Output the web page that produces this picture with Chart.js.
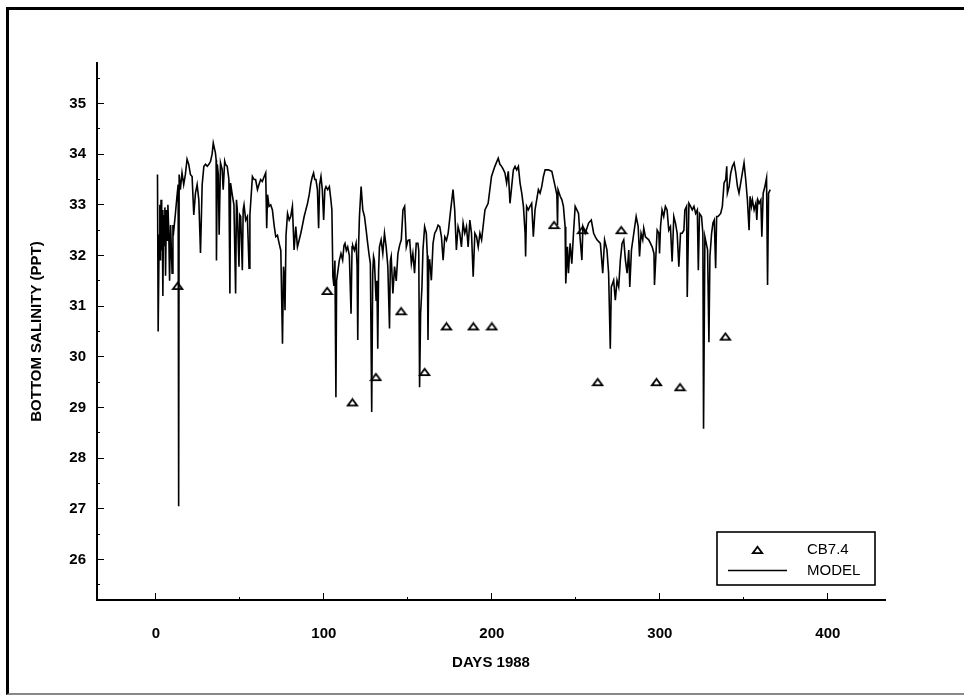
<!DOCTYPE html>
<html>
<head>
<meta charset="utf-8">
<title>Bottom salinity 1988</title>
<script src="https://cdn.jsdelivr.net/npm/chart.js@4.4.1/dist/chart.umd.min.js"></script>
<style>
  body { margin: 0; background: #fff; }
  #wrap { position: relative; width: 964px; height: 695px; overflow: hidden; }
  #salinityChart { position: absolute; left: 0; top: 0; }
  #frame { position: absolute; left: 6px; top: 7px; right: 0; bottom: 0;
           border-top: 3px solid #000; border-left: 3px solid #000; border-bottom: 2px solid #888;
           pointer-events: none; }
</style>
</head>
<body>
<div id="wrap">
  <canvas id="salinityChart" width="964" height="695"></canvas>
  <div id="frame"></div>
</div>
<script>
// station CB7.4 observations
var cbDays = [13, 102, 117, 131, 146, 160, 173, 189, 200, 237, 254, 263, 277, 298, 312, 339];
var cbSalinity = [31.4, 31.3, 29.1, 29.6, 30.9, 29.7, 30.6, 30.6, 30.6, 32.6, 32.5, 29.5, 32.5, 29.5, 29.4, 30.4];

// model bottom salinity through the year
var modelDays = [
  1.0, 1.4, 2.0, 2.4, 2.8, 3.1, 3.5, 3.8, 4.2, 4.6, 5.0, 5.4, 5.8, 6.3, 6.8, 7.2, 7.7, 8.2, 8.8, 9.7,
  10.2, 10.7, 11.6, 12.6, 13.3, 13.6, 13.9, 14.6, 15.6, 16.6, 17.6, 18.6, 19.6, 20.6, 21.6, 22.6, 23.6, 24.6, 25.6, 26.6,
  27.6, 28.6, 29.6, 30.6, 31.6, 32.6, 33.5, 34.2, 35.5, 35.9, 36.1, 36.6, 37.2, 37.7, 38.5, 39.5, 40.1, 41.0, 41.5, 42.5,
  43.5, 44.1, 44.5, 45.5, 46.5, 47.5, 48.0, 48.5, 49.5, 50.0, 50.5, 51.5, 52.0, 52.5, 53.5, 54.5, 55.5, 56.0, 57.5, 58.5,
  59.4, 60.5, 61.4, 62.4, 63.4, 64.4, 65.4, 66.0, 66.5, 67.4, 68.4, 69.4, 70.4, 71.4, 72.4, 73.4, 74.4, 75.4, 76.0, 76.4,
  76.9, 77.5, 78.4, 79.4, 80.3, 81.3, 82.3, 83.3, 84.3, 85.3, 86.3, 87.3, 88.3, 89.3, 90.3, 91.3, 92.3, 93.1, 93.9, 94.6,
  95.3, 96.2, 96.9, 97.5, 98.3, 99.1, 99.9, 100.6, 101.3, 102.3, 103.3, 104.2, 104.8, 105.4, 106.0, 106.6, 107.2, 107.6, 108.2, 109.2,
  110.2, 111.2, 112.0, 112.6, 113.4, 114.2, 115.2, 116.2, 116.8, 117.2, 118.2, 119.2, 119.8, 120.2, 120.7, 121.2, 122.2, 123.2, 124.2, 125.2,
  126.1, 127.0, 127.7, 128.5, 129.1, 129.6, 130.1, 130.6, 131.1, 131.6, 132.1, 132.6, 133.1, 134.1, 135.1, 136.1, 137.1, 138.1, 139.1, 139.6,
  140.1, 141.1, 142.1, 143.1, 144.1, 145.1, 146.1, 147.1, 148.1, 148.6, 149.1, 150.1, 151.1, 152.1, 153.0, 154.0, 155.0, 156.0, 156.5, 157.0,
  157.6, 158.4, 159.0, 160.0, 161.0, 161.6, 162.0, 162.5, 163.0, 164.0, 165.0, 166.0, 167.0, 168.0, 169.0, 170.0, 171.0, 172.0, 173.0, 174.0,
  175.5, 176.9, 177.9, 178.9, 179.9, 180.9, 181.9, 182.9, 183.9, 184.9, 185.9, 186.9, 187.9, 188.9, 189.9, 190.9, 191.9, 192.9, 193.9, 195.9,
  197.8, 199.8, 201.8, 203.8, 204.8, 205.8, 206.8, 207.8, 208.8, 209.8, 210.8, 211.8, 212.8, 213.8, 214.8, 215.8, 216.8, 217.8, 218.8, 219.8,
  220.1, 220.7, 221.7, 222.7, 223.7, 224.7, 225.7, 226.7, 227.7, 228.7, 229.7, 230.7, 231.7, 233.7, 235.7, 237.7, 238.7, 239.1, 239.4, 240.7,
  241.7, 242.6, 243.6, 244.0, 245.0, 245.6, 246.6, 247.6, 248.6, 249.6, 250.6, 251.6, 252.6, 253.6, 254.2, 255.6, 257.6, 259.2, 260.6, 261.6,
  262.6, 264.6, 266.0, 267.1, 268.5, 269.5, 270.5, 271.1, 272.5, 273.5, 274.5, 275.5, 276.5, 277.5, 278.5, 279.5, 280.5, 281.5, 282.1, 283.1,
  284.5, 285.9, 287.1, 287.9, 288.8, 289.8, 290.4, 291.4, 293.4, 295.4, 296.5, 296.8, 297.8, 298.4, 299.4, 299.8, 300.4, 301.3, 302.3, 303.3,
  304.3, 305.3, 306.3, 307.3, 308.3, 309.3, 310.3, 311.3, 312.3, 313.3, 314.3, 314.9, 315.9, 316.3, 317.3, 318.3, 319.3, 320.3, 321.3, 322.3,
  322.9, 323.6, 324.8, 325.6, 326.0, 326.8, 327.6, 328.4, 329.2, 329.8, 330.8, 331.6, 332.4, 333.2, 333.8, 334.6, 336.2, 337.2, 338.2, 339.2,
  339.8, 340.2, 341.2, 342.2, 343.2, 344.2, 345.2, 346.2, 347.1, 348.1, 349.1, 350.1, 351.1, 352.1, 353.1, 353.7, 354.5, 355.1, 356.1, 357.1,
  357.7, 358.3, 359.1, 360.1, 360.7, 361.5, 362.5, 363.5, 364.1, 364.7, 365.7
];
var modelSalinity = [
  33.60, 30.50, 32.40, 33.00, 31.90, 33.10, 32.10, 32.90, 31.20, 32.80, 32.20, 32.95, 31.60, 32.90, 32.30, 33.00, 32.50, 31.50, 32.60, 31.65,
  32.60, 32.50, 32.80, 33.17, 33.40, 27.05, 33.60, 33.30, 33.63, 33.40, 33.60, 33.90, 33.80, 33.60, 33.56, 32.80, 33.23, 33.40, 33.10, 32.05,
  33.40, 33.76, 33.80, 33.76, 33.80, 33.86, 34.00, 34.22, 34.02, 33.89, 31.90, 33.80, 33.60, 32.41, 33.83, 33.70, 33.30, 33.86, 33.80, 33.76,
  33.50, 31.25, 33.43, 33.20, 33.00, 31.25, 33.10, 32.90, 31.78, 32.80, 32.77, 31.71, 32.90, 33.00, 32.70, 32.77, 31.75, 32.80, 33.56, 33.50,
  33.50, 33.30, 33.40, 33.50, 33.46, 33.55, 33.63, 32.54, 33.20, 32.97, 33.00, 32.90, 32.60, 32.37, 32.40, 32.24, 32.10, 30.26, 31.78, 31.60,
  30.92, 32.40, 32.83, 32.70, 32.77, 32.97, 32.11, 32.57, 32.17, 32.30, 32.44, 32.60, 32.77, 32.90, 33.03, 33.20, 33.43, 33.55, 33.63, 33.50,
  33.50, 33.30, 32.54, 33.40, 33.56, 33.30, 32.70, 33.30, 33.36, 33.30, 33.36, 33.10, 32.90, 31.58, 31.40, 31.90, 29.20, 31.50, 31.65, 31.90,
  32.04, 31.91, 32.20, 32.24, 32.10, 32.17, 32.00, 30.85, 32.17, 32.20, 32.10, 32.24, 31.80, 30.33, 32.20, 32.77, 33.36, 32.90, 32.77, 32.50,
  32.24, 32.00, 31.84, 28.91, 31.65, 31.98, 31.90, 31.50, 31.12, 31.50, 30.16, 31.70, 32.17, 32.31, 32.04, 32.44, 32.17, 31.78, 30.56, 31.90,
  31.98, 31.25, 31.78, 31.50, 32.04, 32.20, 32.31, 32.90, 32.97, 32.60, 32.17, 32.30, 32.31, 31.84, 32.04, 31.65, 32.24, 32.24, 32.10, 29.40,
  30.85, 31.38, 32.11, 32.57, 32.44, 32.00, 30.33, 31.90, 31.91, 31.51, 32.24, 32.44, 32.50, 32.60, 32.57, 32.37, 31.91, 32.37, 32.30, 32.44,
  32.90, 33.30, 32.90, 32.11, 32.57, 32.44, 32.17, 32.64, 32.44, 32.57, 32.17, 32.70, 32.44, 31.58, 32.44, 32.37, 32.17, 32.44, 32.31, 32.90,
  33.03, 33.56, 33.76, 33.92, 33.80, 33.76, 33.70, 33.63, 33.43, 33.66, 33.03, 33.36, 33.69, 33.76, 33.69, 33.76, 33.43, 33.23, 32.97, 32.44,
  31.98, 32.97, 32.90, 32.97, 33.03, 32.37, 32.90, 33.10, 33.30, 33.23, 33.36, 33.56, 33.69, 33.69, 33.66, 33.36, 33.20, 32.60, 33.30, 33.17,
  33.10, 32.97, 32.57, 31.45, 32.17, 31.65, 32.24, 31.84, 32.44, 32.97, 32.90, 32.83, 32.31, 31.91, 32.57, 32.44, 32.64, 32.70, 32.44, 32.37,
  32.31, 32.24, 31.65, 32.31, 32.11, 31.65, 30.16, 31.38, 31.51, 31.12, 31.51, 31.38, 31.91, 32.24, 32.31, 31.91, 31.65, 32.11, 31.38, 32.11,
  32.44, 32.77, 32.57, 31.98, 32.44, 32.31, 32.54, 32.37, 32.31, 32.17, 32.04, 31.42, 32.11, 32.50, 32.44, 32.04, 32.57, 32.90, 32.77, 32.97,
  32.90, 32.50, 32.57, 31.88, 32.77, 32.64, 32.44, 31.78, 32.44, 32.44, 32.50, 32.90, 32.97, 31.18, 33.03, 32.97, 32.90, 32.97, 32.83, 32.90,
  31.71, 32.83, 32.77, 32.44, 28.58, 32.37, 32.24, 32.11, 30.29, 31.98, 32.44, 32.64, 32.70, 31.75, 32.77, 32.77, 32.83, 32.97, 33.43, 33.50,
  33.76, 33.23, 33.36, 33.63, 33.76, 33.83, 33.63, 33.36, 33.23, 33.43, 33.63, 33.83, 33.50, 33.10, 32.50, 33.17, 32.97, 33.10, 32.90, 33.03,
  32.70, 33.10, 33.03, 33.10, 32.37, 33.23, 33.36, 33.53, 31.42, 33.23, 33.30
];

var dayRange = [-35, 434];
var salinityRange = [25.2, 35.8];

function toPoints(xs, ys) {
  var pts = [];
  for (var i = 0; i < xs.length; i++) pts.push({ x: xs[i], y: ys[i] });
  return pts;
}

// open triangle marker, a bit flatter than the built-in one
function makeTriangle(w, h, lw) {
  var c = document.createElement('canvas');
  c.width = w;
  c.height = h;
  var g = c.getContext('2d');
  g.strokeStyle = '#000';
  g.lineWidth = lw;
  g.beginPath();
  g.moveTo(w / 2, lw);
  g.lineTo(w - lw, h - lw);
  g.lineTo(lw, h - lw);
  g.closePath();
  g.stroke();
  return c;
}
var triangle = makeTriangle(13, 10, 1.8);

// boxed legend sitting in the lower right of the plot
var boxLegend = {
  id: 'boxLegend',
  afterDraw: function (chart) {
    var ctx = chart.ctx;
    var sets = chart.data.datasets;
    ctx.save();
    ctx.strokeStyle = '#000';
    ctx.lineWidth = 1.6;
    ctx.strokeRect(717, 532, 158, 53);
    ctx.drawImage(triangle, 751, 545);
    ctx.beginPath();
    ctx.lineWidth = 1.3;
    ctx.moveTo(728, 570.5);
    ctx.lineTo(787, 570.5);
    ctx.stroke();
    ctx.fillStyle = '#000';
    ctx.font = "15px 'Liberation Sans', Arial, sans-serif";
    ctx.textBaseline = 'middle';
    ctx.fillText(sets[1].label, 807, 550);
    ctx.fillText(sets[0].label, 807, 571);
    ctx.restore();
  }
};

Chart.defaults.font.family = "'Liberation Sans', Arial, sans-serif";
Chart.defaults.font.size = 15;
Chart.defaults.font.weight = 'bold';
Chart.defaults.color = '#000';

var config = {
  type: 'scatter',
  data: {
    datasets: [{
      label: 'MODEL',
      data: toPoints(modelDays, modelSalinity),
      showLine: true,
      borderColor: '#000',
      borderWidth: 1.6,
      pointRadius: 0,
      tension: 0
    }, {
      label: 'CB7.4',
      data: toPoints(cbDays, cbSalinity),
      showLine: false,
      pointStyle: triangle,
      pointRadius: 5
    }]
  },
  options: {
    responsive: false,
    animation: false,
    devicePixelRatio: 1,
    layout: { padding: { top: 63, right: 79, left: 0, bottom: 0 } },
    plugins: {
      legend: { display: false },
      tooltip: { enabled: false }
    },
    scales: {
      x: {
        type: 'linear',
        min: dayRange[0],
        max: dayRange[1],
        border: { color: '#000', width: 2 },
        grid: {
          drawOnChartArea: false,
          tickLength: -7,
          tickColor: '#000',
          tickWidth: 1,
          tickBorderDash: function (c) {
            return c.tick && c.tick.value % 100 !== 0 ? [4, 20] : [];
          }
        },
        ticks: {
          stepSize: 50,
          includeBounds: false,
          autoSkip: false,
          maxRotation: 0,
          padding: 32,
          callback: function (v) { return v % 100 === 0 ? String(v) : ''; }
        },
        title: { display: true, text: 'DAYS 1988', padding: { top: 0, bottom: 23 } },
        afterFit: function (s) { s.height = 95; }
      },
      y: {
        type: 'linear',
        min: salinityRange[0],
        max: salinityRange[1],
        border: { color: '#000', width: 2 },
        grid: {
          drawOnChartArea: false,
          tickLength: -7,
          tickColor: '#000',
          tickWidth: 1,
          tickBorderDash: function (c) {
            return c.tick && c.tick.value % 1 !== 0 ? [0, 4, 5, 20] : [];
          }
        },
        ticks: {
          stepSize: 0.5,
          includeBounds: false,
          autoSkip: false,
          padding: 18,
          callback: function (v) { return v % 1 === 0 ? String(v) : ''; }
        },
        title: { display: true, text: 'BOTTOM SALINITY (PPT)', padding: { top: 28, bottom: 0 } },
        afterFit: function (s) { s.width = 97; }
      }
    }
  },
  plugins: [boxLegend]
};

var ctx = document.getElementById('salinityChart');
window.salinityChart = new Chart(ctx, config);
</script>
</body>
</html>
